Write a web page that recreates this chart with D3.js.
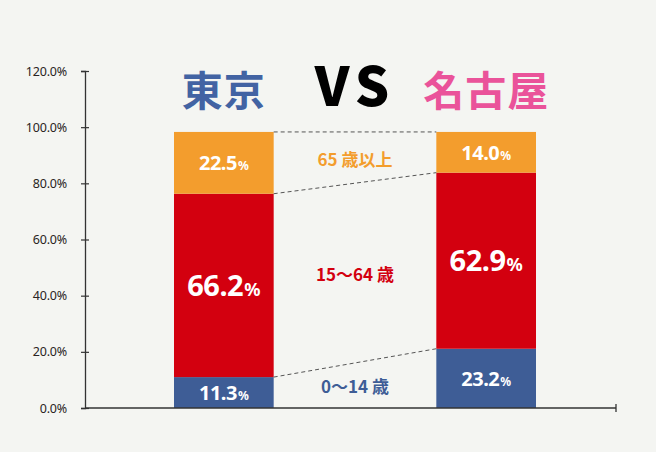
<!DOCTYPE html>
<html>
<head>
<meta charset="utf-8">
<script src="https://cdn.jsdelivr.net/npm/d3@7"></script>
<style>
	body{ margin:0; background:#f4f5f2; }
	svg{ display:block; }
</style>
</head>
<body>
<svg id="chart"></svg>
<script>
// data
const cities = ["東京", "名古屋"];
const groups = ["0〜14 歳", "15〜64 歳", "65 歳以上"];
// segment heights as drawn (bottom -> top)
const tokyoValues = [11.0, 65.3, 22.0];
const nagoyaValues = [21.1, 62.7, 14.5];
// printed labels
const tokyoLabels = ["11.3", "66.2", "22.5"];
const nagoyaLabels = ["23.2", "62.9", "14.0"];
const yTicks = [0, 20, 40, 60, 80, 100, 120];

const groupColors = ["#3e5d96", "#d3000f", "#f39d2d"];
const cityColors = ["#4263a3", "#ea539a"];

const width = 656, height = 452;
let svg = d3.select("#chart").attr("width", width).attr("height", height);

let y = d3.scaleLinear().domain([0, 120]).range([408, 71]);
let x = d3.scaleBand().domain(cities).range([174, 536]).paddingInner(0.62).paddingOuter(0);

// y axis
let yAxis = svg.append("g")
	.attr("transform", "translate(85,0)")
	.call(d3.axisLeft(y).tickValues(yTicks).tickFormat(d => d.toFixed(1) + "%").tickSize(4).tickPadding(14));
yAxis.select(".domain").attr("stroke", "#333").attr("stroke-width", 1.3);
yAxis.selectAll(".tick line").attr("x1", -4).attr("x2", 4).attr("stroke", "#333").attr("stroke-width", 1.2);
yAxis.selectAll(".tick text")
	.attr("fill", "#2a2422")
	.style("font-family", "'Noto Sans', sans-serif")
	.style("font-size", "12.5px")
	.style("letter-spacing", "-0.2px");

// stack data
let data = cities.map((c, i) => {
	let vals = i == 0 ? tokyoValues : nagoyaValues;
	let labels = i == 0 ? tokyoLabels : nagoyaLabels;
	let acc = 0;
	return vals.map((v, j) => {
		let seg = {city: c, ci: i, group: j, y0: acc, y1: acc + v, label: labels[j]};
		acc += v;
		return seg;
	});
});

// bars
let barG = svg.append("g");
barG.selectAll("g")
	.data(data)
	.join("g")
	.selectAll("rect")
	.data(d => d)
	.join("rect")
	.attr("x", d => x(d.city))
	.attr("width", x.bandwidth())
	.attr("y", d => y(d.y1))
	.attr("height", d => y(d.y0) - y(d.y1))
	.attr("fill", d => groupColors[d.group]);

// x axis line
svg.append("line")
	.attr("x1", 85).attr("x2", 616)
	.attr("y1", y(0)).attr("y2", y(0))
	.attr("stroke", "#333").attr("stroke-width", 1.3);
svg.append("line")
	.attr("x1", 616).attr("x2", 616)
	.attr("y1", y(0) - 4).attr("y2", y(0) + 4)
	.attr("stroke", "#333").attr("stroke-width", 1.3);

// dashed connectors
let xr = x(cities[0]) + x.bandwidth(), xl = x(cities[1]);
let levels = [0, 1, 2].map(j => [data[0][j].y1, data[1][j].y1]);
svg.selectAll(".conn")
	.data(levels)
	.join("line")
	.attr("class", "conn")
	.attr("x1", xr).attr("x2", xl)
	.attr("y1", d => y(d[0])).attr("y2", d => y(d[1]))
	.attr("stroke", "#555").attr("stroke-width", 1)
	.attr("stroke-dasharray", "4,3");

// value labels
let segs = data.flat();
let bigSize = d => d.group == 1 ? 29 : 20;
let valText = svg.selectAll(".val")
	.data(segs)
	.join("text")
	.attr("class", "val")
	.attr("x", d => x(d.city) + x.bandwidth() / 2)
	.attr("y", d => (y(d.y0) + y(d.y1)) / 2 + bigSize(d) * 0.36)
	.attr("text-anchor", "middle")
	.attr("fill", "white")
	.style("font-family", "'Noto Sans', sans-serif")
	.style("font-weight", "bold");
valText.append("tspan")
	.style("font-size", d => bigSize(d) + "px")
	.style("letter-spacing", "-0.5px")
	.text(d => d.label);
valText.append("tspan")
	.style("font-size", d => Math.round(bigSize(d) * 0.62) + "px")
	.attr("dx", 1)
	.text("%");

// group labels between bars
svg.selectAll(".grp")
	.data(groups)
	.join("text")
	.attr("class", "grp")
	.attr("x", (xr + xl) / 2)
	.attr("y", (d, j) => {
		let m0 = (y(data[0][j].y0) + y(data[0][j].y1)) / 2;
		let m1 = (y(data[1][j].y0) + y(data[1][j].y1)) / 2;
		return (m0 + m1) / 2 + 8;
	})
	.attr("text-anchor", "middle")
	.attr("fill", (d, j) => groupColors[j])
	.style("font-family", "'Noto Sans CJK JP', sans-serif")
	.style("font-weight", "bold")
	.style("font-size", "17px")
	.text(d => d);

// title
let titleY = 106;
svg.selectAll(".city")
	.data(cities)
	.join("text")
	.attr("class", "city")
	.attr("x", d => x(d) + x.bandwidth() / 2)
	.attr("y", titleY)
	.attr("text-anchor", "middle")
	.attr("fill", (d, i) => cityColors[i])
	.style("font-family", "'Noto Sans CJK JP', sans-serif")
	.style("font-weight", "bold")
	.style("font-size", "41px")
	.style("letter-spacing", "1px")
	.text(d => d);
svg.append("text")
	.attr("x", (xr + xl) / 2)
	.attr("y", titleY)
	.attr("text-anchor", "middle")
	.attr("fill", "#000")
	.style("font-family", "'Noto Sans CJK JP', sans-serif")
	.style("font-weight", 900)
	.style("font-size", "54px")
	.style("letter-spacing", "6px")
	.text("VS");
</script>
</body>
</html>
